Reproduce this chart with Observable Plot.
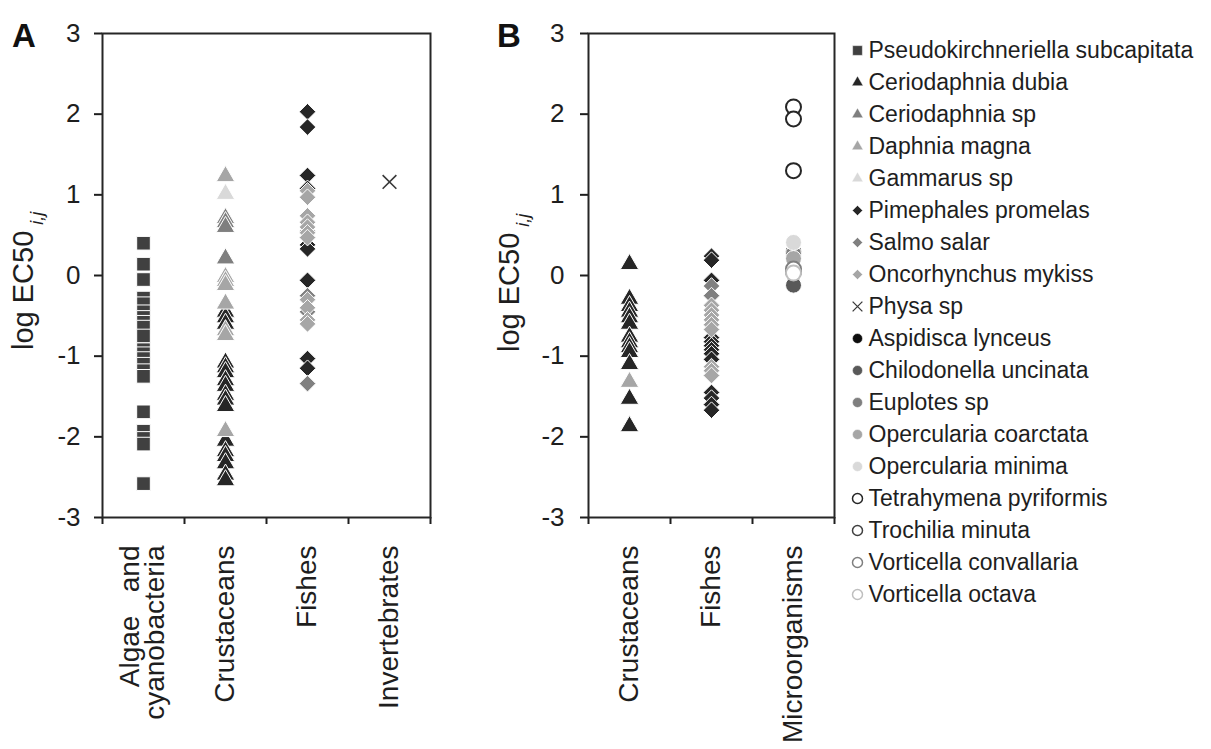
<!DOCTYPE html>
<html><head><meta charset="utf-8">
<script src="https://cdn.jsdelivr.net/npm/d3@7"></script>
<script src="https://cdn.jsdelivr.net/npm/@observablehq/plot@0.6"></script>
<style>
body{margin:0;background:#fff;width:1211px;height:749px;overflow:hidden;position:relative;font-family:"Liberation Sans",Arial,sans-serif;}
.panel{position:absolute;}
.letter{position:absolute;font-weight:bold;font-size:33px;color:#111;font-family:"Liberation Sans",Arial,sans-serif;line-height:1;}
</style></head><body>
<div id="A" class="panel" style="left:0;top:0"></div>
<div id="B" class="panel" style="left:480px;top:0"></div>
<div id="legend" class="panel" style="left:845px;top:31px"></div>
<div class="letter" style="left:12px;top:19px">A</div>
<div class="letter" style="left:497px;top:19px">B</div>
<script>
// ---------- data ----------
const yTicks = [-3, -2, -1, 0, 1, 2, 3];
const categoriesA = ["Algae \u00a0\u00a0and\ncyanobacteria", "Crustaceans", "Fishes", "Invertebrates"];
const categoriesB = ["Crustaceans", "Fishes", "Microorganisms"];
const speciesNames = [
  "Pseudokirchneriella subcapitata", "Ceriodaphnia dubia", "Ceriodaphnia sp", "Daphnia magna",
  "Gammarus sp", "Pimephales promelas", "Salmo salar", "Oncorhynchus mykiss", "Physa sp",
  "Aspidisca lynceus", "Chilodonella uncinata", "Euplotes sp", "Opercularia coarctata",
  "Opercularia minima", "Tetrahymena pyriformis", "Trochilia minuta", "Vorticella convallaria",
  "Vorticella octava"
];

// Panel A values (log EC50)
const aPseudokirchneriella = [0.40, 0.14, -0.05, -0.28, -0.35, -0.45, -0.52, -0.58, -0.64, -0.75, -0.92, -0.97, -1.03, -1.10, -1.18, -1.25, -1.69, -1.93, -2.02, -2.09, -2.58];
const aCeriodaphniaDubia = [-0.45, -0.52, -0.60, -1.08, -1.14, -1.20, -1.30, -1.37, -1.48, -1.54, -1.62, -2.05, -2.18, -2.24, -2.33, -2.47, -2.54];
const aCeriodaphniaSp = [0.71, 0.66, 0.60, 0.21];
const aDaphniaMagna = [1.23, -0.02, -0.07, -0.12, -0.35, -0.68, -0.74, -1.93];
const aGammarusSp = [1.01];
const aPimephales = [2.03, 1.84, 1.24, 1.08, 0.38, 0.33, -0.06, -0.55, -1.03, -1.15];
const aSalmoSalar = [0.55, -0.25, -0.45, -1.34];
const aOncorhynchus = [1.05, 0.97, 0.74, 0.66, 0.60, 0.53, 0.47, -0.30, -0.40, -0.55, -0.60];
const aPhysa = [1.16];

// Panel B values (log EC50)
const bCeriodaphniaDubia = [0.14, -0.29, -0.38, -0.45, -0.52, -0.60, -0.76, -0.83, -0.89, -0.95, -1.10, -1.53, -1.87];
const bDaphniaMagna = [-1.32];
const bPimephales = [0.24, 0.19, -0.06, -0.77, -0.82, -0.87, -0.92, -0.97, -1.04, -1.45, -1.52, -1.60, -1.67];
const bSalmoSalar = [-0.13, -0.25];
const bOncorhynchus = [-0.37, -0.43, -0.49, -0.55, -0.61, -0.67, -1.13, -1.18, -1.24];
const bAspidisca = [0.30];
const bChilodonella = [-0.12];
const bEuplotes = [0.27];
const bOperculariaCoarctata = [0.21];
const bOperculariaMinima = [0.41];
const bTetrahymena = [2.09, 1.94, 1.30];
const bTrochilia = [0.05];
const bVorticellaConvallaria = [0.08];
const bVorticellaOctava = [0.03];

// ---------- styles ----------
const FONT = '"Liberation Sans", Arial, sans-serif';
const TXT = "#1e1e1e";
const sty = {
  "Pseudokirchneriella subcapitata": {symbol: "square", fill: "#404040", r: 7.7, lr: 5.5},
  "Ceriodaphnia dubia": {symbol: "triangle", fill: "#262626", r: 6.9, lr: 4.2},
  "Ceriodaphnia sp": {symbol: "triangle", fill: "#7f7f7f", r: 6.9, lr: 4.2},
  "Daphnia magna": {symbol: "triangle", fill: "#a6a6a6", r: 6.9, lr: 4.2},
  "Gammarus sp": {symbol: "triangle", fill: "#d9d9d9", r: 6.9, lr: 4.2},
  "Pimephales promelas": {symbol: "diamond2", fill: "#262626", r: 7.5, lr: 4.6},
  "Salmo salar": {symbol: "diamond2", fill: "#808080", r: 7.5, lr: 4.6},
  "Oncorhynchus mykiss": {symbol: "diamond2", fill: "#a6a6a6", r: 7.5, lr: 4.6},
  "Physa sp": {symbol: "times", stroke: "#3a3a3a", r: 6.3, lr: 4.5},
  "Aspidisca lynceus": {symbol: "circle", fill: "#0d0d0d", r: 8, lr: 5},
  "Chilodonella uncinata": {symbol: "circle", fill: "#595959", r: 8, lr: 5},
  "Euplotes sp": {symbol: "circle", fill: "#7f7f7f", r: 8, lr: 5},
  "Opercularia coarctata": {symbol: "circle", fill: "#a6a6a6", r: 8, lr: 5},
  "Opercularia minima": {symbol: "circle", fill: "#d9d9d9", r: 8, lr: 5},
  "Tetrahymena pyriformis": {symbol: "circle", open: "#262626", r: 7.5, lr: 5},
  "Trochilia minuta": {symbol: "circle", open: "#404040", r: 7.5, lr: 5},
  "Vorticella convallaria": {symbol: "circle", open: "#7f7f7f", r: 7.5, lr: 5},
  "Vorticella octava": {symbol: "circle", open: "#bfbfbf", r: 7.5, lr: 5}
};

const seriesA = [
  ["Pseudokirchneriella subcapitata", categoriesA[0], aPseudokirchneriella],
  ["Ceriodaphnia dubia", categoriesA[1], aCeriodaphniaDubia],
  ["Ceriodaphnia sp", categoriesA[1], aCeriodaphniaSp],
  ["Daphnia magna", categoriesA[1], aDaphniaMagna],
  ["Gammarus sp", categoriesA[1], aGammarusSp],
  ["Pimephales promelas", categoriesA[2], aPimephales],
  ["Salmo salar", categoriesA[2], aSalmoSalar],
  ["Oncorhynchus mykiss", categoriesA[2], aOncorhynchus],
  ["Physa sp", categoriesA[3], aPhysa]
];
const seriesB = [
  ["Ceriodaphnia dubia", categoriesB[0], bCeriodaphniaDubia],
  ["Daphnia magna", categoriesB[0], bDaphniaMagna],
  ["Pimephales promelas", categoriesB[1], bPimephales],
  ["Salmo salar", categoriesB[1], bSalmoSalar],
  ["Oncorhynchus mykiss", categoriesB[1], bOncorhynchus],
  ["Aspidisca lynceus", categoriesB[2], bAspidisca],
  ["Chilodonella uncinata", categoriesB[2], bChilodonella],
  ["Euplotes sp", categoriesB[2], bEuplotes],
  ["Opercularia coarctata", categoriesB[2], bOperculariaCoarctata],
  ["Opercularia minima", categoriesB[2], bOperculariaMinima],
  ["Tetrahymena pyriformis", categoriesB[2], bTetrahymena],
  ["Trochilia minuta", categoriesB[2], bTrochilia],
  ["Vorticella convallaria", categoriesB[2], bVorticellaConvallaria],
  ["Vorticella octava", categoriesB[2], bVorticellaOctava]
];

function symbolOpts(s, r) {
  if (s.open) return {symbol: s.symbol, r, fill: "white", stroke: s.open, strokeWidth: 2};
  if (s.stroke) return {symbol: s.symbol, r, stroke: s.stroke, strokeWidth: 1.6};
  return {symbol: s.symbol, r, fill: s.fill, stroke: "white", strokeWidth: 1};
}

function panel(categories, series, opts) {
  const n = categories.length;
  const idx = new Map(categories.map((c, i) => [c, i]));
  const dotMarks = series.map(([sp, cat, vals]) =>
    Plot.dot(vals, {x: () => idx.get(cat) + 0.5, y: d => d, ...symbolOpts(sty[sp], sty[sp].r)})
  );
  const svg = Plot.plot({
    width: opts.width, height: 749,
    marginLeft: opts.marginLeft, marginRight: opts.marginRight, marginTop: 33, marginBottom: 232,
    x: {domain: [0, n], axis: null},
    y: {domain: [-3, 3], axis: null},
    style: {fontFamily: FONT, fontSize: "26px", color: TXT, background: "transparent", overflow: "visible"},
    marks: [
      Plot.axisY({ticks: yTicks, tickSize: 8, tickPadding: opts.tickPadding, tickFormat: d => String(d), label: null, fontSize: 26, strokeWidth: 2}),
      Plot.axisX({ticks: d3.range(n + 1), tickSize: 7, tickFormat: () => "", label: null, strokeWidth: 2}),
      Plot.frame({stroke: "#262626", strokeWidth: 2}),
      ...dotMarks,
      Plot.text(categories, {x: (d, i) => i + 0.5, frameAnchor: "bottom", dy: 28, rotate: -90, textAnchor: "end", lineAnchor: "middle", lineHeight: 0.9, fontSize: 28, text: d => d, fill: TXT})
    ]
  });
  const t = d3.select(svg).append("text")
    .attr("transform", `translate(${opts.titleX},${opts.titleY}) rotate(-90)`)
    .attr("text-anchor", "start")
    .attr("fill", TXT)
    .style("font-family", FONT)
    .style("font-size", "29px");
  t.append("tspan").text("log EC50");
  t.append("tspan").attr("dx", 6).attr("dy", 10).style("font-size", "18px").style("font-style", "italic").text("i,j");
  return svg;
}

document.getElementById("A").appendChild(panel(categoriesA, seriesA, {width: 440, marginLeft: 102, marginRight: 10, tickPadding: 14, titleX: 33, titleY: 350}));
document.getElementById("B").appendChild(panel(categoriesB, seriesB, {width: 365, marginLeft: 108, marginRight: 11, tickPadding: 16, titleX: 39, titleY: 352}));

// ---------- legend ----------
const legend = Plot.plot({
  width: 366, height: 581, margin: 0,
  x: {axis: null}, y: {type: "band", domain: speciesNames, axis: null, padding: 0},
  style: {fontFamily: FONT, background: "transparent", overflow: "visible"},
  marks: [
    ...speciesNames.map(sp => Plot.dot([sp], {y: d => d, frameAnchor: "left", dx: 12, ...symbolOpts(sty[sp], sty[sp].lr), strokeWidth: sty[sp].open ? 1.5 : (sty[sp].stroke ? 1.3 : 0.5)})),
    Plot.text(speciesNames, {y: d => d, frameAnchor: "left", dx: 23, textAnchor: "start", fontSize: 23, fill: TXT, text: d => d})
  ]
});
document.getElementById("legend").appendChild(legend);
</script>
</body></html>
